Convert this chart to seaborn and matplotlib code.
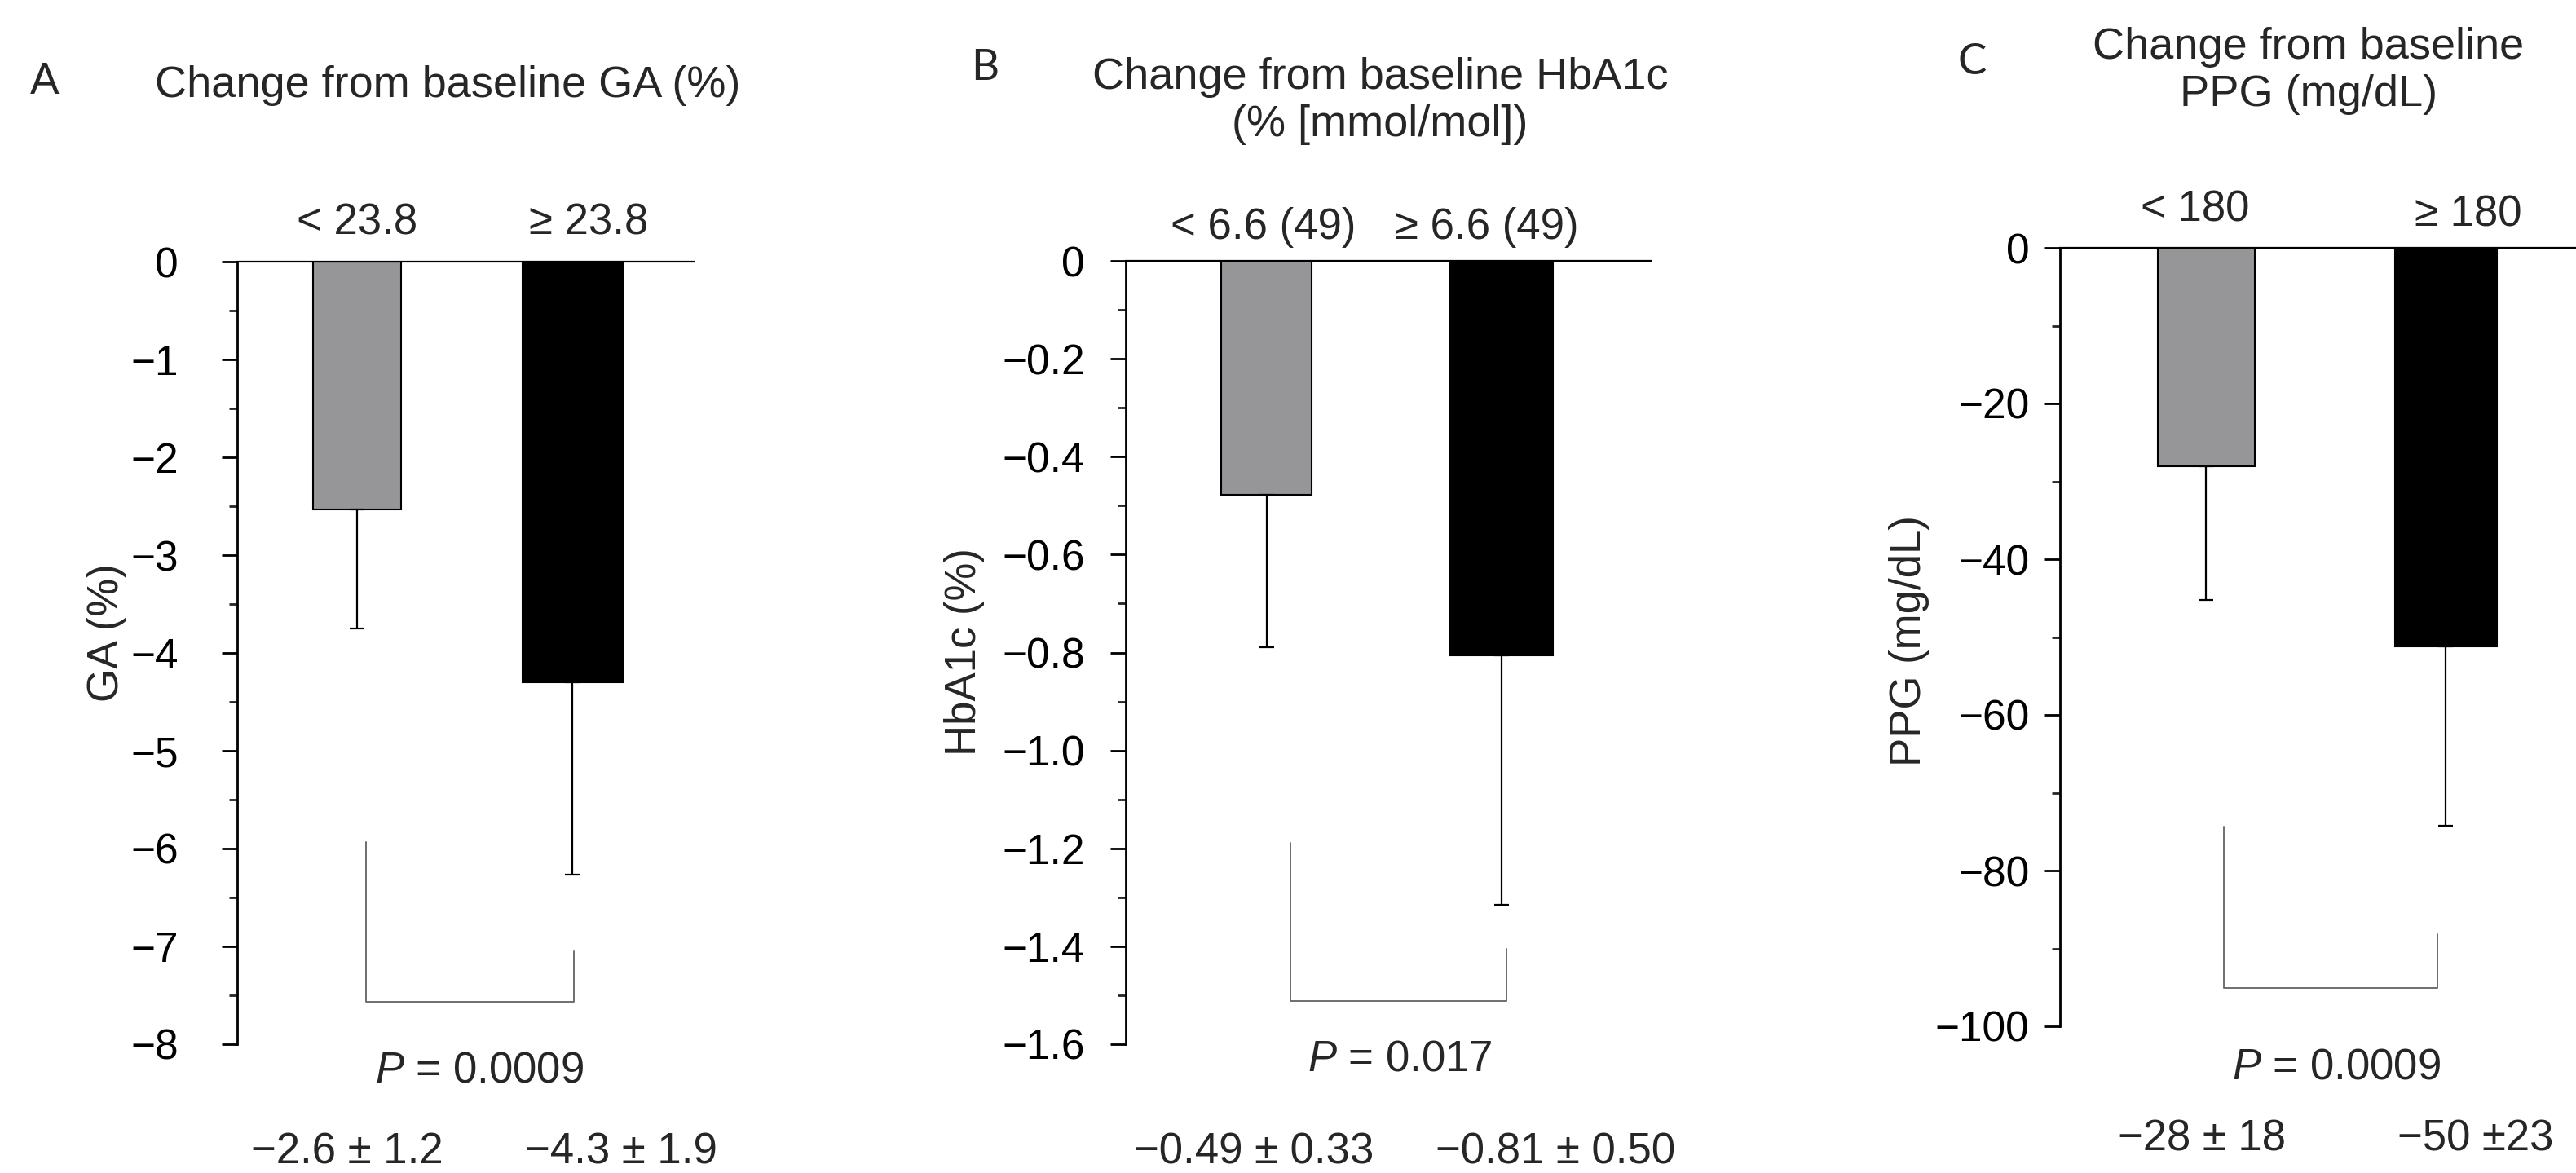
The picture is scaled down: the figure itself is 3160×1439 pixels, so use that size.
import matplotlib
matplotlib.use('Agg')
import matplotlib.pyplot as plt
import seaborn as sns
from matplotlib.ticker import MultipleLocator

# ---- data ----
ga_groups = ['< 23.8', '≥ 23.8']
ga_mean = [-2.53, -4.30]
ga_sd = [1.22, 1.97]
ga_summary = ['−2.6 ± 1.2', '−4.3 ± 1.9']
ga_ticks = [0, -1, -2, -3, -4, -5, -6, -7, -8]
ga_ticklabels = ['0', '−1', '−2', '−3', '−4', '−5', '−6', '−7', '−8']
ga_bracket = [-5.93, -7.57, -7.05]
ga_p = '0.0009'

hba_groups = ['< 6.6 (49)', '≥ 6.6 (49)']
hba_mean = [-0.478, -0.805]
hba_sd = [0.312, 0.51]
hba_summary = ['−0.49 ± 0.33', '−0.81 ± 0.50']
hba_ticks = [0, -0.2, -0.4, -0.6, -0.8, -1.0, -1.2, -1.4, -1.6]
hba_ticklabels = ['0', '−0.2', '−0.4', '−0.6', '−0.8', '−1.0', '−1.2', '−1.4', '−1.6']
hba_bracket = [-1.188, -1.512, -1.405]
hba_p = '0.017'

ppg_groups = ['< 180', '≥ 180']
ppg_mean = [-28.1, -51.2]
ppg_sd = [17.1, 23.0]
ppg_summary = ['−28 ± 18', '−50 ±23']
ppg_ticks = [0, -20, -40, -60, -80, -100]
ppg_ticklabels = ['0', '−20', '−40', '−60', '−80', '−100']
ppg_bracket = [-74.3, -95.1, -88.2]
ppg_p = '0.0009'

bar_colors = ['#959699', '#000000']

sns.set_style('white')
plt.rcParams['font.family'] = ['Liberation Sans', 'DejaVu Sans']
plt.rcParams['mathtext.fontset'] = 'custom'
plt.rcParams['mathtext.it'] = 'Liberation Sans:italic'
plt.rcParams['mathtext.rm'] = 'Liberation Sans'

W, H = 3160, 1439
fig = plt.figure(figsize=(W / 100, H / 100), dpi=100)
FS = 38
TICK_FS = 37


def fx(px):
    return px / W


def fy(py):
    return 1 - py / H


panels = [
    dict(letter='A', groups=ga_groups, mean=ga_mean, sd=ga_sd, summary=ga_summary,
         ticks=ga_ticks, ticklabels=ga_ticklabels, minor=0.5, bracket=ga_bracket, p=ga_p,
         title='Change from baseline GA (%)', ylabel='GA (%)',
         box=(291, 851, 321, 1281), xlim=(-0.557, 1.564), widths=(0.41, 0.466),
         bx=(0.042, 1.008), pad=38,
         letter_xy=(55, 115), title_xy=(549, 105), cat_x=(438, 722), cat_y=(287, 287),
         p_xy=(588, 1328), sum_x=(426, 762), sum_y=1428, ylab_xy=(131, 776)),
    dict(letter='B', groups=hba_groups, mean=hba_mean, sd=hba_sd, summary=hba_summary,
         ticks=hba_ticks, ticklabels=hba_ticklabels, minor=0.1, bracket=hba_bracket, p=hba_p,
         title='Change from baseline HbA1c\n(% [mmol/mol])', ylabel='HbA1c (%)',
         box=(1381, 2025, 320, 1281), xlim=(-0.60, 1.635), widths=(0.385, 0.44),
         bx=(0.10, 1.02), pad=22,
         letter_xy=(1208, 98), title_xy=(1693, 124), cat_x=(1550, 1824), cat_y=(293, 293),
         p_xy=(1717, 1314), sum_x=(1538, 1908), sum_y=1428, ylab_xy=(1183, 800)),
    dict(letter='C', groups=ppg_groups, mean=ppg_mean, sd=ppg_sd, summary=ppg_summary,
         ticks=ppg_ticks, ticklabels=ppg_ticklabels, minor=10, bracket=ppg_bracket, p=ppg_p,
         title='Change from baseline\nPPG (mg/dL)', ylabel='PPG (mg/dL)',
         box=(2527, 3160, 304, 1259), xlim=(-0.609, 1.544), widths=(0.405, 0.425),
         bx=(0.075, 0.966), pad=13,
         letter_xy=(2419, 91), title_xy=(2832, 87), cat_x=(2693, 3028), cat_y=(272, 277),
         p_xy=(2866, 1323), sum_x=(2701, 3037), sum_y=1412, ylab_xy=(2342, 786)),
]

for pn in panels:
    l, r, t, b = pn['box']
    ax = fig.add_axes([fx(l), fy(b), fx(r - l), (b - t) / H])

    sns.barplot(x=pn['groups'], y=pn['mean'], hue=pn['groups'], palette=bar_colors,
                edgecolor='black', linewidth=1.5, errorbar=None, legend=False,
                width=0.42, ax=ax, zorder=2)
    for patch, w in zip(ax.patches, pn['widths']):
        cx = patch.get_x() + patch.get_width() / 2
        patch.set_x(cx - w / 2)
        patch.set_width(w)

    ax.errorbar([0, 1], pn['mean'], yerr=[pn['sd'], [0, 0]], fmt='none',
                ecolor='black', elinewidth=1.6, capsize=6.8, capthick=1.6, zorder=3)

    y0, y1, y2 = pn['bracket']
    x0, x1 = pn['bx']
    ax.plot([x0, x0, x1, x1], [y0, y1, y1, y2], color='#6e6e6e', lw=1.4, zorder=1)

    ax.set_xlim(*pn['xlim'])
    ax.set_ylim(pn['ticks'][-1], 0)
    ax.set_yticks(pn['ticks'])
    ax.set_yticklabels(pn['ticklabels'])
    ax.yaxis.set_minor_locator(MultipleLocator(pn['minor']))
    ax.set_xticks([])
    ax.set_xlabel('')
    ax.set_ylabel('')
    ax.tick_params(axis='y', which='major', length=14, width=2, labelsize=TICK_FS,
                   pad=pn['pad'], left=True, colors='black')
    ax.tick_params(axis='y', which='minor', length=7, width=2, left=True)

    for side in ['right', 'bottom']:
        ax.spines[side].set_visible(False)
    ax.spines['left'].set_linewidth(2)
    ax.spines['top'].set_linewidth(1.6)
    ax.spines['left'].set_color('black')
    ax.spines['top'].set_color('black')
    ax.patch.set_alpha(0)

    fig.text(fx(pn['letter_xy'][0]), fy(pn['letter_xy'][1]), pn['letter'],
             family=['Lato', 'DejaVu Sans'], fontsize=38, ha='center', va='baseline')
    fig.text(fx(pn['title_xy'][0]), fy(pn['title_xy'][1]), pn['title'],
             fontsize=FS + 1, ha='center', va='center', multialignment='center',
             linespacing=1.2)
    for g, cx, cy in zip(pn['groups'], pn['cat_x'], pn['cat_y']):
        fig.text(fx(cx), fy(cy), g, fontsize=FS, ha='center', va='baseline')
    fig.text(fx(pn['p_xy'][0]), fy(pn['p_xy'][1]), r'$\mathit{P}$ = ' + pn['p'],
             fontsize=FS, ha='center', va='baseline')
    for s, cx in zip(pn['summary'], pn['sum_x']):
        fig.text(fx(cx), fy(pn['sum_y']), s, fontsize=FS, ha='center', va='baseline')
    fig.text(fx(pn['ylab_xy'][0]), fy(pn['ylab_xy'][1]), pn['ylabel'],
             fontsize=FS, ha='center', va='center', rotation=90)

fig.savefig('out.png', dpi=100, facecolor='white')
